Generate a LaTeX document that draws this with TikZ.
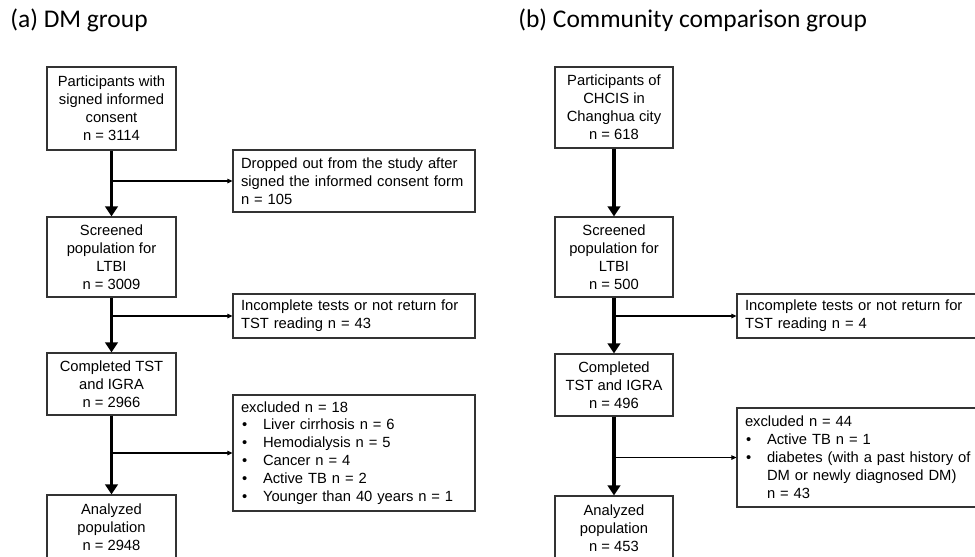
\documentclass[tikz,border=0pt]{standalone}
\usepackage{fontspec}
\setmainfont{Liberation Sans}
\newfontfamily\titlefont{Carlito}
\usetikzlibrary{arrows.meta}
\newcommand{\bul}[1]{\par\noindent\makebox[0.44cm][l]{\hspace{0.02cm}\textbullet}\parbox[t]{4.3cm}{\raggedright#1}}

\begin{document}
\begin{tikzpicture}[x=0.02cm,y=-0.02cm,
    box/.style={draw=black!80,line width=0.7pt,align=center,inner sep=0pt,
      font=\fontsize{8.4}{10.2}\selectfont},
    sidebox/.style={draw=black!80,line width=0.7pt,align=left,inner xsep=0.16cm,inner ysep=0pt,
      font=\fontsize{8.4}{10.2}\selectfont},
    title/.style={anchor=base west,inner sep=0pt,font=\titlefont\fontsize{14.5}{17}\selectfont},
    main/.style={-{Triangle[length=0.2cm,width=0.25cm]},line width=2.2pt},
    side/.style={-{Triangle[length=0.1cm,width=0.09cm]},line width=0.6pt}]
  \useasboundingbox (0,0) rectangle (975,556);
  \clip (0,0) rectangle (975,556);
  \node[title] (ta) at (10,27) {(a) DM group};
  \node[title] (tb) at (518,27) {(b) Community comparison group};

  \node[box,minimum width=2.58cm,minimum height=1.66cm] (dm1) at (111.5,108.5)
    {Participants with\\signed informed\\consent\\n = 3114};
  \node[box,minimum width=2.58cm,minimum height=1.6cm] (dm2) at (111.5,257)
    {Screened\\population for\\LTBI\\n = 3009};
  \node[box,minimum width=2.58cm,minimum height=1.24cm] (dm3) at (111.5,384)
    {Completed TST\\and IGRA\\n = 2966};
  \node[box,minimum width=2.58cm,minimum height=1.28cm] (dm4) at (111.5,527)
    {Analyzed\\population\\n = 2948};
  \node[sidebox,text width=4.52cm,minimum height=1.24cm] (dmx1) at (354,181)
    {Dropped out from the study after\\signed the informed consent form\\n = 105};
  \node[sidebox,text width=4.52cm,minimum height=0.88cm] (dmx2) at (354,316)
    {Incomplete tests or not return for\\TST reading n = 43};
  \node[sidebox,text width=4.52cm,minimum height=2.32cm] (dmx3) at (354,453)
    {excluded n = 18\bul{Liver cirrhosis n = 6}\bul{Hemodialysis n = 5}\bul{Cancer n = 4}\bul{Active TB n = 2}\bul{Younger than 40 years n = 1}};

  \node[box,minimum width=2.36cm,minimum height=1.62cm] (cc1) at (614,107.5)
    {Participants of\\CHCIS in\\Changhua city\\n = 618};
  \node[box,minimum width=2.36cm,minimum height=1.6cm] (cc2) at (614,257)
    {Screened\\population for\\LTBI\\n = 500};
  \node[box,minimum width=2.36cm,minimum height=1.24cm] (cc3) at (614,385)
    {Completed\\TST and IGRA\\n = 496};
  \node[box,minimum width=2.36cm,minimum height=1.28cm] (cc4) at (614,528)
    {Analyzed\\population\\n = 453};
  \node[sidebox,text width=4.88cm,minimum height=0.88cm] (ccx1) at (867,316)
    {Incomplete tests or not return for\\TST reading n = 4};
  \node[sidebox,text width=4.88cm,minimum height=1.98cm] (ccx2) at (867,457.5)
    {excluded n = 44\bul{Active TB n = 1}\bul{diabetes (with a past history of\\DM or newly diagnosed DM)\\n = 43}};

  \draw[main] (dm1) -- (dm2);
  \draw[main] (dm2) -- (dm3);
  \draw[main] (dm3) -- (dm4);
  \draw[side] (dm1.south |- dmx1.west) -- (dmx1.west);
  \draw[side] (dm2.south |- dmx2.west) -- (dmx2.west);
  \draw[side] (dm3.south |- dmx3.west) -- (dmx3.west);

  \draw[main] (cc1) -- (cc2);
  \draw[main] (cc2) -- (cc3);
  \draw[main] (cc3) -- (cc4);
  \draw[side] (cc2.south |- ccx1.west) -- (ccx1.west);
  \draw[side] (cc3.south |- ccx2.west) -- (ccx2.west);
\end{tikzpicture}
\end{document}
